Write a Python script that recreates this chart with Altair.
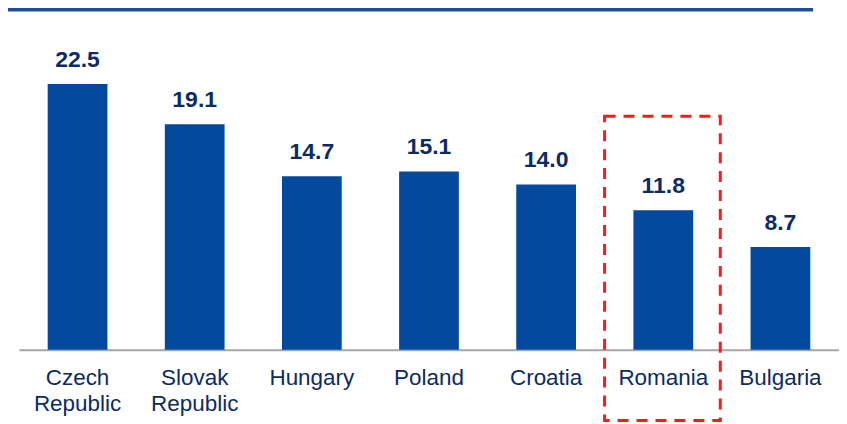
import altair as alt
import pandas as pd

countries = ["Czech Republic", "Slovak Republic", "Hungary", "Poland", "Croatia", "Romania", "Bulgaria"]
values = [22.5, 19.1, 14.7, 15.1, 14.0, 11.8, 8.7]
highlight = ["Romania"]

df = pd.DataFrame({"country": countries, "value": values})
df["label"] = [f"{v:.1f}" for v in values]
hl = pd.DataFrame({"country": highlight})

BAR = "#034a9e"
NAVY = "#0c2b63"

x = alt.X("country:N", sort=countries,
          scale=alt.Scale(paddingInner=0.49, paddingOuter=0.245),
          axis=alt.Axis(title=None, labelAngle=0, labelFontSize=22.5, labelColor=NAVY,
                        labelFont="Liberation Sans", labelPadding=17, labelLineHeight=26,
                        labelExpr="split(datum.label, ' ')", ticks=False,
                        domainColor="#a6a6a6", domainWidth=2))
y = alt.Y("value:Q", scale=alt.Scale(domain=[0, 28.9], nice=False, zero=True),
          axis=None)

bars = alt.Chart(df).mark_bar(color=BAR).encode(x=x, y=y)
labels = alt.Chart(df).mark_text(baseline="bottom", dy=-12, fontSize=23, fontWeight="bold",
                                 font="Liberation Sans", color=NAVY).encode(
    x=alt.X("country:N", sort=countries), y="value:Q", text="label:N")

box = alt.Chart(hl).mark_rect(fillOpacity=0, stroke="#ff1a1a", strokeWidth=3,
                              strokeDash=[11, 8]).encode(
    x=alt.value(587), x2=alt.value(703), y=alt.value(108), y2=alt.value(413))

topline = alt.Chart(hl).mark_rule(color="#1f4f9c", strokeWidth=4).encode(
    x=alt.value(-11), x2=alt.value(796), y=alt.value(1))

chart = alt.layer(bars, labels, box, topline).properties(
    width=822, height=342,
    autosize=alt.AutoSizeParams(type="none"),
    padding={"left": 11, "top": 0, "right": 0, "bottom": 74},
    background="white",
).configure_view(stroke=None)

chart.save("out.html", embed_options={"renderer": "svg", "actions": False})
